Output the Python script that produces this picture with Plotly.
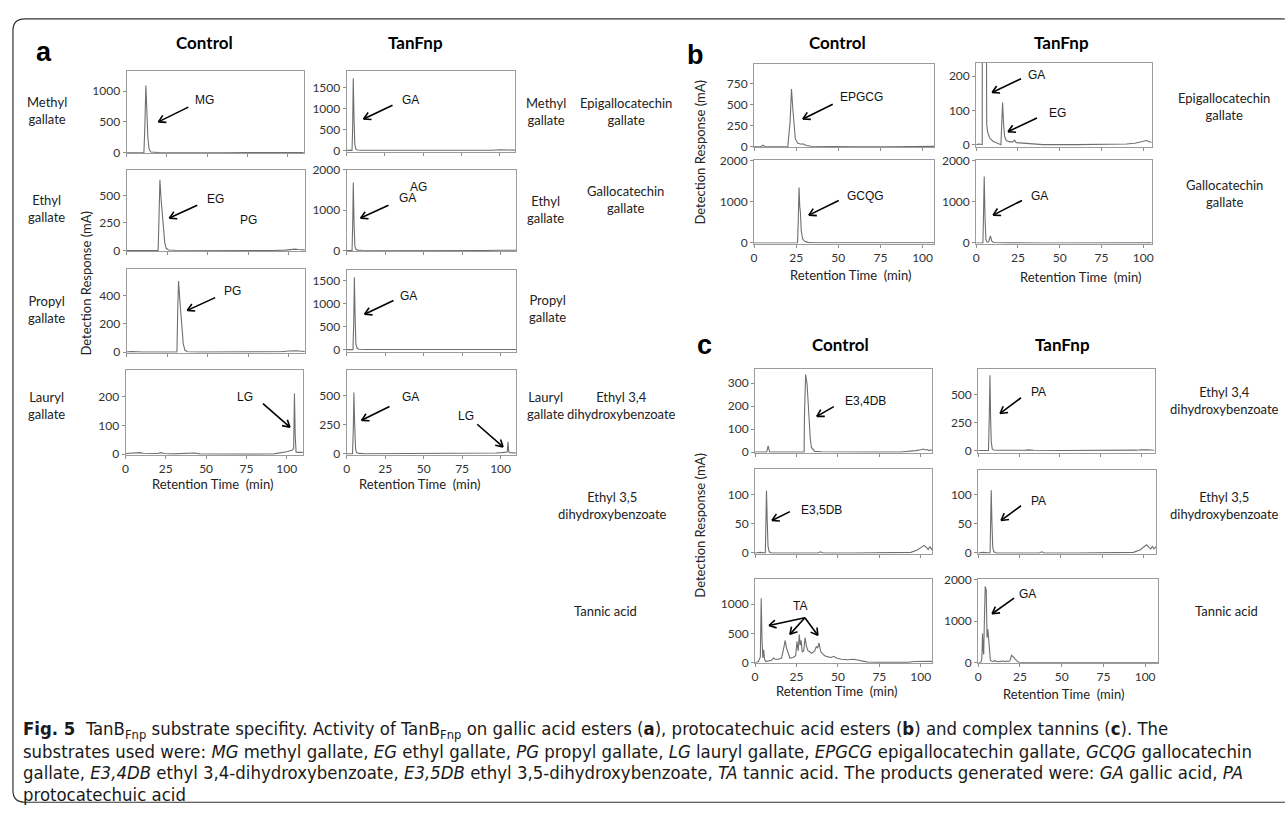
import math
import plotly.graph_objects as go

W, H = 1285, 822

# ---------------- data: retention time (min) / detection response (mA) ----------------
# Panel a - gallic acid esters
mg_ctrl_t = [0, 4, 8, 10.8, 11.4, 12.0, 12.6, 13.2, 14.0, 15, 20, 30, 45, 60, 75, 90, 98, 102, 105, 108, 110]
mg_ctrl_v = [0, 3, 0, 0, 450, 1095, 700, 250, 60, 10, 3, 0, 2, 0, 1, 0, 3, 6, 4, 5, 3]
mg_tan_t = [0, 2, 3.5, 3.9, 4.3, 4.8, 5.3, 6, 7, 10, 20, 40, 60, 80, 95, 100, 104, 108, 110]
mg_tan_v = [0, 3, 0, 500, 1720, 800, 150, 30, 10, 4, 2, 0, 3, 0, 4, 15, 12, 8, 5]

eg_ctrl_t = [0, 5, 10, 15, 19.5, 20.1, 20.6, 21.3, 22, 22.8, 23.6, 24.5, 26, 30, 50, 70, 90, 98, 101, 104, 106, 108, 110]
eg_ctrl_v = [0, 3, 0, 0, 0, 330, 643, 470, 330, 180, 70, 20, 5, 2, 0, 2, 0, 3, 8, 12, 9, 10, 6]
eg_tan_t = [0, 2, 3.5, 3.9, 4.3, 4.8, 5.3, 6, 7, 10, 30, 50, 70, 90, 98, 102, 105, 108, 110]
eg_tan_v = [0, 5, 0, 600, 1690, 700, 120, 30, 10, 5, 0, 3, 0, 2, 6, 10, 8, 12, 6]

pg_ctrl_t = [0, 3, 10, 20, 30, 31.1, 31.6, 32.1, 32.8, 33.5, 34.2, 35, 36, 37.5, 45, 60, 80, 95, 100, 103, 105, 108, 110]
pg_ctrl_v = [0, 4, 0, 2, 0, 0, 300, 502, 380, 260, 150, 60, 15, 3, 0, 2, 0, 3, 8, 12, 10, 7, 5]
pg_tan_t = [0, 2, 4.1, 4.6, 5.0, 5.5, 6.0, 6.8, 8, 12, 30, 50, 70, 90, 100, 104, 108, 110]
pg_tan_v = [0, 3, 0, 600, 1580, 700, 120, 30, 10, 4, 2, 0, 2, 0, 8, 10, 6, 4]

lg_ctrl_t = [0, 3, 6, 9, 11, 14, 20, 22, 24, 30, 40, 43, 46, 60, 80, 92, 96, 100, 102, 103.5, 104.3, 104.8, 105.3, 105.8, 106.5, 108, 110]
lg_ctrl_v = [2, 3, 4, 5, 3, 2, 2, 5, 2, 1, 2, 4, 1, 0, 0, 1, 4, 8, 12, 14, 20, 210, 60, 8, 6, 5, 6]
lg_tan_t = [0, 2, 3.8, 4.3, 4.7, 5.2, 5.8, 6.5, 8, 12, 30, 50, 70, 90, 97, 101, 103, 104.3, 104.8, 105.3, 106, 108, 110]
lg_tan_v = [0, 2, 0, 200, 527, 250, 40, 10, 3, 0, 0, 2, 0, 3, 6, 10, 12, 15, 102, 18, 10, 8, 6]

# Panel b - catechin gallates
epgcg_ctrl_t = [0, 4, 5.2, 6.5, 10, 20, 21.4, 22.2, 23, 23.8, 24.5, 26, 28, 29, 31, 34, 40, 60, 80, 95, 100, 105, 108]
epgcg_ctrl_v = [0, 0, 18, 0, 0, 0, 300, 690, 450, 200, 90, 40, 30, 35, 15, 5, 2, 0, 0, 2, 5, 3, 4]
epgcg_tan_t = [0, 2, 3.6, 3.9, 4.5, 5.2, 5.9, 6.3, 6.8, 8, 10, 12, 14.8, 15.3, 15.8, 16.4, 17, 18, 20, 22, 23, 24, 27,
               32, 40, 60, 80, 90, 95, 98, 100, 102, 104, 106, 108]
epgcg_tan_v = [0, 2, 0, 1800, 2600, 2400, 600, 60, 37, 20, 10, 5, 0, 60, 123, 60, 25, 12, 8, 8, 13, 6, 5,
               3, 0, 0, 0, 2, 4, 8, 10, 12, 8, 6, 8]

gcqg_ctrl_t = [0, 5, 10, 20, 25.8, 26.2, 26.7, 27.1, 27.5, 28, 28.8, 30, 32, 35, 50, 70, 90, 98, 102, 105, 108]
gcqg_ctrl_v = [0, 3, 0, 0, 0, 500, 1347, 900, 740, 300, 100, 40, 15, 5, 2, 0, 0, 3, 5, 3, 4]
gcqg_tan_t = [0, 2, 4.0, 4.4, 4.8, 5.3, 5.8, 6.5, 7.5, 8.5, 9.4, 10.5, 13, 20, 40, 60, 80, 95, 100, 104, 108]
gcqg_tan_v = [0, 2, 0, 700, 1609, 600, 80, 20, 30, 170, 40, 10, 5, 2, 0, 0, 0, 3, 6, 4, 3]

# Panel c - dihydroxybenzoates and tannic acid
e34_ctrl_t = [0, 3, 7.0, 7.9, 8.8, 12, 20, 29.6, 29.8, 30.5, 31.4, 32.0, 32.6, 33.3, 34, 36, 40, 50, 70, 88, 93, 97,
              100, 101.5, 103, 104, 105, 106, 107, 108]
e34_ctrl_v = [0, 0, 0, 27, 0, 0, 0, 0, 150, 337, 295, 200, 121, 60, 20, 3, 1, 0, 0, 0, 2, 6,
              10, 13, 9, 11, 6, 10, 7, 9]
e34_tan_t = [0, 3, 6.3, 6.8, 7.2, 7.6, 8.0, 8.6, 9.5, 12, 20, 28, 31, 34, 50, 70, 90, 97, 100, 102, 104, 106, 108]
e34_tan_v = [0, 2, 0, 300, 676, 300, 80, 15, 5, 2, 0, 2, 6, 2, 0, 0, 0, 3, 7, 9, 6, 4, 3]

e35_ctrl_t = [0, 3, 6.2, 6.6, 6.9, 7.3, 7.8, 8.5, 10, 20, 30, 38, 39.5, 41, 60, 80, 90, 94, 98, 100, 102, 103.5,
              104.5, 105.5, 106.5, 107.5, 108]
e35_ctrl_v = [0, 1, 0, 50, 107, 60, 12, 2, 0, 0, 0, 0, 2, 0, 0, 0, 0, 1, 5, 9, 13, 9, 6, 11, 6, 10, 7]
e35_tan_t = [0, 3, 7.2, 7.6, 7.9, 8.3, 8.8, 9.5, 11, 20, 30, 37, 38.5, 40, 60, 80, 90, 94, 98, 100, 102, 103.5,
             104.5, 105.5, 106.5, 107.5, 108]
e35_tan_v = [0, 1, 0, 50, 107, 55, 10, 2, 0, 0, 0, 0, 2, 0, 0, 0, 0, 1, 5, 9, 14, 9, 7, 11, 7, 10, 8]

ta_ctrl_t = [0, 2, 3.2, 3.7, 4.2, 4.7, 5.2, 5.7, 6.5, 8, 10, 11, 12, 14, 16, 17.3, 18.2, 19, 20, 21, 23, 24.5, 25.3,
             26, 26.7, 27.2, 27.8, 28.5, 29.3, 30.2, 31, 32, 33, 34, 35, 36, 37, 37.8, 38.6, 39.5, 40.5, 42, 44, 46,
             47.4, 49, 52, 56, 59.6, 63, 68, 75, 85, 92, 96, 100, 103, 106, 108]
ta_ctrl_v = [0, 20, 100, 1100, 400, 80, 220, 60, 20, 30, 40, 80, 60, 60, 80, 250, 380, 250, 150, 80, 90, 120, 360,
             200, 480, 300, 380, 180, 200, 430, 280, 200, 190, 160, 180, 200, 280, 250, 340, 200, 160, 120, 100, 90,
             110, 80, 60, 50, 60, 40, 10, 5, 3, 5, 20, 25, 20, 22, 18]
ta_tan_t = [0, 1.5, 2.2, 2.6, 3.0, 3.3, 3.7, 4.2, 4.8, 5.3, 5.8, 6.3, 6.8, 7.3, 8, 9, 10, 11, 12, 13, 14, 15, 16, 17,
            18, 19, 20, 21, 22, 23, 24, 25, 30, 50, 70, 90, 100, 103, 108]
ta_tan_v = [0, 0, 100, 700, 300, 200, 1000, 1830, 1750, 600, 800, 500, 150, 60, 40, 30, 50, 25, 20, 35, 30, 45, 25,
            40, 30, 50, 180, 140, 90, 50, 20, 5, 2, 0, 0, 0, 5, 8, 3]

x_ticks = [0, 25, 50, 75, 100]

# ---------------- layout helpers ----------------
def px(x):
    return x / W

def py(y):
    return 1 - y / H

FONT = "Lato, 'Open Sans', sans-serif"
ARIAL = "'Liberation Sans', Arial, sans-serif"

# (series t, series v, box px (x0,y0,x1,y1), y range, y ticks, x max, show x tick labels)
panels = [
    (mg_ctrl_t, mg_ctrl_v, (124, 64, 302, 148), [-10, 1333], [0, 500, 1000], 110, False),
    (mg_tan_t, mg_tan_v, (345, 64, 514, 147), [-47, 1898], [0, 500, 1000, 1500], 110, False),
    (eg_ctrl_t, eg_ctrl_v, (124, 165, 303, 248), [-9, 732], [0, 250, 500], 110, False),
    (eg_tan_t, eg_tan_v, (345, 165, 515, 248), [-24, 2000], [0, 1000, 2000], 110, False),
    (pg_ctrl_t, pg_ctrl_v, (124, 266, 303, 351), [-3, 586], [0, 200, 400], 110, False),
    (pg_tan_t, pg_tan_v, (345, 267, 515, 350), [-43, 1735], [0, 500, 1000, 1500], 110, False),
    (lg_ctrl_t, lg_ctrl_v, (123, 369, 301, 455), [-2, 291], [0, 100, 200], 110, True),
    (lg_tan_t, lg_tan_v, (345, 369, 515, 455), [-8, 717], [0, 250, 500], 110, True),
    (epgcg_ctrl_t, epgcg_ctrl_v, (754, 57, 935, 142), [-8, 988], [0, 250, 500, 750], 107, False),
    (epgcg_tan_t, epgcg_tan_v, (977, 56, 1153, 142), [-8, 238], [0, 100, 200], 105, False),
    (gcqg_ctrl_t, gcqg_ctrl_v, (754, 155, 935, 240), [-16, 2007], [0, 1000, 2000], 107, True),
    (gcqg_tan_t, gcqg_tan_v, (977, 155, 1153, 240), [-16, 2007], [0, 1000, 2000], 105, True),
    (e34_ctrl_t, e34_ctrl_v, (755, 368, 933, 453), [-3, 360], [0, 100, 200, 300], 107, False),
    (e34_tan_t, e34_tan_v, (979, 368, 1156, 453), [-20, 729], [0, 250, 500], 108, False),
    (e35_ctrl_t, e35_ctrl_v, (755, 470, 933, 556), [-1.5, 143], [0, 50, 100], 107, False),
    (e35_tan_t, e35_tan_v, (979, 471, 1158, 556), [-1.5, 141], [0, 50, 100], 108, False),
    (ta_ctrl_t, ta_ctrl_v, (755, 582, 933, 667), [-2, 1424], [0, 500, 1000], 107, True),
    (ta_tan_t, ta_tan_v, (979, 582, 1160, 667), [-2, 2000], [0, 1000, 2000], 108, True),
]

fig = go.Figure()
layout = dict(
    width=W, height=H, autosize=False,
    margin=dict(l=0, r=0, t=0, b=0),
    paper_bgcolor="white", plot_bgcolor="white",
    showlegend=False,
)

for i, (t, v, box, yr, yt, xmax, showx) in enumerate(panels):
    n = i + 1
    xa = "xaxis" if n == 1 else f"xaxis{n}"
    ya = "yaxis" if n == 1 else f"yaxis{n}"
    x0, y0, x1, y1 = box
    common = dict(showline=True, linecolor="#9c9c9c", linewidth=1, mirror=True,
                  ticks="outside", ticklen=3, tickcolor="#8c8c8c", tickwidth=1,
                  showgrid=False, zeroline=False,
                  tickfont=dict(family=FONT, size=12, color="#333333"))
    layout[xa] = dict(common, domain=[px(x0), px(x1)], range=[0, xmax], tickvals=x_ticks,
                      showticklabels=showx, anchor=f"y{n}" if n > 1 else "y")
    layout[ya] = dict(common, domain=[py(y1), py(y0)], range=yr, tickvals=yt,
                      anchor=f"x{n}" if n > 1 else "x")
    fig.add_trace(go.Scatter(x=t, y=v, mode="lines",
                             line=dict(color="#6f6f6f", width=1.1),
                             xaxis=f"x{n}" if n > 1 else "x", yaxis=f"y{n}" if n > 1 else "y",
                             hoverinfo="skip"))

annotations = []
shapes = []

def text(x, y, s, size=13, family=FONT, color="#222222", xanchor="center", yanchor="middle", align="center", textangle=0):
    annotations.append(dict(x=px(x), y=py(y), xref="paper", yref="paper", text=s, showarrow=False,
                            font=dict(family=family, size=size, color=color), xanchor=xanchor,
                            yanchor=yanchor, align=align, textangle=textangle))

def arrow(tail, head, hl=8, ang=30):
    (tx, ty), (hx, hy) = tail, head
    shapes.append(dict(type="line", xref="paper", yref="paper", x0=px(tx), y0=py(ty), x1=px(hx), y1=py(hy),
                       line=dict(color="black", width=1.6)))
    th = math.atan2(hy - ty, hx - tx)
    for s in (1, -1):
        a = th + math.pi + s * math.radians(ang)
        ex, ey = hx + hl * math.cos(a), hy + hl * math.sin(a)
        shapes.append(dict(type="line", xref="paper", yref="paper", x0=px(hx), y0=py(hy), x1=px(ex), y1=py(ey),
                           line=dict(color="black", width=1.6)))

# panel letters & column headers
text(41, 45, "<b>a</b>", size=27, family=ARIAL, color="black")
text(695, 48, "<b>b</b>", size=27, family=ARIAL, color="black")
text(704, 343, "<b>c</b>", size=27, family=ARIAL, color="black")
for (x, y, s) in [(202, 35, "Control"), (414, 35, "TanFnp"), (838, 35, "Control"), (1063, 35, "TanFnp"),
                  (841, 343, "Control"), (1064, 343, "TanFnp")]:
    text(x, y, f"<b>{s}</b>", size=17, color="black")

# row labels
for (x, y, s) in [(44, 104, "Methyl<br>gallate"), (44, 204, "Ethyl<br>gallate"), (44, 307, "Propyl<br>gallate"),
                  (44, 405, "Lauryl<br>gallate"),
                  (545, 105, "Methyl<br>gallate"), (545, 205, "Ethyl<br>gallate"), (547, 306, "Propyl<br>gallate"),
                  (545, 405, "Lauryl<br>gallate"),
                  (625, 105, "Epigallocatechin<br>gallate"), (625, 195, "Gallocatechin<br>gallate"),
                  (621, 405, "Ethyl 3,4<br>dihydroxybenzoate"), (612, 507, "Ethyl 3,5<br>dihydroxybenzoate"),
                  (605, 614, "Tannic acid"),
                  (1226, 100, "Epigallocatechin<br>gallate"), (1226, 189, "Gallocatechin<br>gallate"),
                  (1226, 400, "Ethyl 3,4<br>dihydroxybenzoate"), (1226, 507, "Ethyl 3,5<br>dihydroxybenzoate"),
                  (1228, 614, "Tannic acid")]:
    text(x, y, s, size=13)

# axis titles
for (x, y) in [(83, 280), (700, 147), (700, 527)]:
    text(x, y, "Detection Response (mA)", size=13, textangle=-90)
for (x, y) in [(210, 485), (418, 485), (851, 272), (1082, 274), (837, 696), (1065, 699)]:
    text(x, y, "Retention Time&nbsp;&nbsp;(min)", size=13)

# peak labels
for (x, y, s) in [(202, 94, "MG"), (409, 94, "GA"), (213, 195, "EG"), (246, 216, "PG"), (417, 182, "AG"),
                  (406, 194, "GA"), (230, 288, "PG"), (407, 293, "GA"), (243, 396, "LG"), (409, 396, "GA"),
                  (465, 416, "LG"),
                  (862, 91, "EPGCG"), (1038, 68, "GA"), (1059, 107, "EG"), (866, 192, "GCQG"), (1041, 191, "GA"),
                  (866, 400, "E3,4DB"), (1040, 391, "PA"), (822, 511, "E3,5DB"), (1040, 502, "PA"),
                  (800, 609, "TA"), (1029, 597, "GA")]:
    text(x, y, s, size=12, family=ARIAL, color="#111111")

for tail, head in [((186, 101), (156, 116)), ((391, 99), (362, 113)), ((195, 201), (167, 214)),
                   ((387, 201), (359, 214)), ((213, 295), (185, 308)), ((392, 298), (363, 312)),
                   ((261, 403), (288, 427)), ((388, 406), (360, 420)), ((476, 424), (502, 447)),
                   ((833, 98), (803, 113)), ((1022, 72), (993, 86)), ((1038, 112), (1009, 126)),
                   ((839, 196), (809, 211)), ((1023, 196), (994, 211)),
                   ((834, 406), (817, 416)), ((1022, 397), (1001, 413)), ((790, 513), (772, 522)),
                   ((1022, 507), (1002, 522)), ((805, 621), (769, 629)), ((805, 621), (790, 638)),
                   ((805, 621), (818, 639)), ((1015, 601), (993, 617))]:
    arrow(tail, head)

# caption
CAP = "'DejaVu Sans Condensed', 'Liberation Sans', sans-serif"
cap_lines = [
    "<b>Fig. 5</b>  TanB<sub>Fnp</sub> substrate specifity. Activity of TanB<sub>Fnp</sub> on gallic acid esters (<b>a</b>), "
    "protocatechuic acid esters (<b>b</b>) and complex tannins (<b>c</b>). The",
    "substrates used were: <i>MG</i> methyl gallate, <i>EG</i> ethyl gallate, <i>PG</i> propyl gallate, <i>LG</i> lauryl "
    "gallate, <i>EPGCG</i> epigallocatechin gallate, <i>GCQG</i> gallocatechin",
    "gallate, <i>E3,4DB</i> ethyl 3,4-dihydroxybenzoate, <i>E3,5DB</i> ethyl 3,5-dihydroxybenzoate, <i>TA</i> tannic acid. "
    "The products generated were: <i>GA</i> gallic acid, <i>PA</i>",
    "protocatechuic acid",
]
for k, line in enumerate(cap_lines):
    text(18, 735 + 22 * k, line, size=18.4, family=CAP, color="#1a1a1a", xanchor="left", align="left")

# rounded outer frame (right side runs past the page edge)
L, T, R, B, r = 10, 11, 1296, 809, 12
path = (f"M {px(L + r)} {py(T)} L {px(R - r)} {py(T)} Q {px(R)} {py(T)} {px(R)} {py(T + r)} "
        f"L {px(R)} {py(B - r)} Q {px(R)} {py(B)} {px(R - r)} {py(B)} "
        f"L {px(L + r)} {py(B)} Q {px(L)} {py(B)} {px(L)} {py(B - r)} "
        f"L {px(L)} {py(T + r)} Q {px(L)} {py(T)} {px(L + r)} {py(T)} Z")
shapes.append(dict(type="path", xref="paper", yref="paper", path=path, line=dict(color="#333333", width=1.2)))

layout["annotations"] = annotations
layout["shapes"] = shapes
fig.update_layout(**layout)
fig.write_html("out.html",
               config={"displayModeBar": False, "staticPlot": True},
               post_script="document.body.style.margin='0px';document.body.style.padding='0px';"
                           "document.body.style.overflow='hidden';")
